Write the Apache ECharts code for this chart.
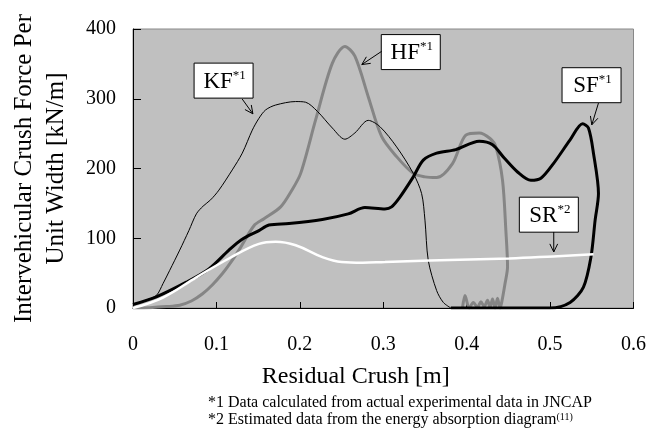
<!DOCTYPE html>
<html>
<head>
<meta charset="utf-8">
<script src="https://cdn.jsdelivr.net/npm/echarts@6/dist/echarts.min.js"></script>
<style>
html, body { margin: 0; padding: 0; background: #fff; }
#main { width: 649px; height: 445px; }
</style>
</head>
<body>
<div id="main"></div>
<script>
// residual crush [m], force per unit width [kN/m]
var kf = [[0,5],[0.015,11],[0.028,18],[0.036,35],[0.044,54],[0.056,83],[0.067,111],[0.076,135],[0.084,146],[0.093,155],[0.103,169],[0.119,198],[0.131,222],[0.143,255],[0.151,272],[0.159,284],[0.171,291],[0.195,296],[0.207,295],[0.221,282],[0.239,258],[0.254,242],[0.266,251],[0.282,269],[0.296,260],[0.316,231],[0.336,193],[0.346,164],[0.35,126],[0.354,68],[0.364,25],[0.372,8],[0.381,0]];
var hf = [[0,0],[0.02,0.5],[0.04,2],[0.056,4],[0.07,10],[0.083,20],[0.095,33],[0.107,49],[0.117,65],[0.127,83],[0.145,118],[0.157,128],[0.177,145],[0.19,168],[0.201,193],[0.219,270],[0.239,351],[0.254,375],[0.266,361],[0.282,303],[0.298,246],[0.316,217],[0.336,193],[0.35,188],[0.364,187],[0.383,207],[0.399,248],[0.415,251],[0.428,243],[0.435,231],[0.443,183],[0.447,111],[0.449,59],[0.446,35],[0.442,8],[0.44,0],[0.437,14],[0.434,0],[0.431,13],[0.428,1],[0.425,11],[0.421,2],[0.417,9],[0.413,1],[0.408,8],[0.403,0],[0.398,18],[0.395,0]];
var sf = [[0,5],[0.028,16],[0.064,37],[0.091,56],[0.115,83],[0.13,98],[0.151,111],[0.163,119],[0.187,121],[0.227,127],[0.258,135],[0.278,144],[0.302,142],[0.31,145],[0.32,159],[0.336,188],[0.348,212],[0.364,222],[0.387,227],[0.415,239],[0.431,234],[0.445,215],[0.461,195],[0.477,183],[0.489,186],[0.504,207],[0.524,241],[0.539,264],[0.546,258],[0.552,222],[0.558,164],[0.554,126],[0.549,73],[0.54,30],[0.524,8],[0.5,0],[0.44,0],[0.381,0]];
var sr = [[0,0],[0.036,15],[0.076,44],[0.115,71],[0.151,92],[0.171,95],[0.195,90],[0.227,73],[0.25,66],[0.275,65],[0.302,66],[0.356,68],[0.451,71],[0.504,74],[0.552,77]];

// callout boxes (center) and arrows, in data units
var notes = [
  { name: 'KF', sup: '*1', box: [0.1086, 326], from: [0.1309, 299.6], to: [0.1437, 278.4] },
  { name: 'HF', sup: '*1', box: [0.3330, 366.9], from: [0.2981, 368], to: [0.2743, 349] },
  { name: 'SF', sup: '*1', box: [0.5497, 319.4], from: [0.5580, 293.8], to: [0.5500, 262.6] },
  { name: 'SR', sup: '*2', box: [0.4985, 133.8], from: [0.5044, 109], to: [0.5044, 80.3] }
];
var footnotes = ['*1 Data calculated from actual experimental data in JNCAP',
                 '*2 Estimated data from the energy absorption diagram'];

var font = 'Liberation Serif, Times New Roman, serif';
var chart = echarts.init(document.getElementById('main'));

var option = {
  animation: false,
  backgroundColor: '#fff',
  grid: { left: 131, right: 14, top: 29, bottom: 137, show: true, backgroundColor: '#c0c0c0', borderColor: '#888', borderWidth: 1 },
  xAxis: {
    type: 'value', min: 0, max: 0.6, interval: 0.1,
    name: 'Residual Crush [m]', nameLocation: 'middle', nameGap: 57,
    nameTextStyle: { fontFamily: font, fontSize: 24, color: '#000', padding: [0, 55, 0, 0] },
    axisLine: { lineStyle: { color: '#000' } },
    axisTick: { inside: true, length: 6, lineStyle: { color: '#000' } },
    axisLabel: { fontFamily: font, fontSize: 20, color: '#000', margin: 27 },
    splitLine: { show: false }
  },
  yAxis: {
    type: 'value', min: 0, max: 400, interval: 100,
    name: 'Intervehicular Crush Force Per\nUnit Width [kN/m]', nameLocation: 'middle', nameGap: 61, nameRotate: 90,
    nameTextStyle: { fontFamily: font, fontSize: 25, color: '#000', lineHeight: 32 },
    axisLine: { show: true, lineStyle: { color: '#000' } },
    axisTick: { show: true, inside: true, length: 8, lineStyle: { color: '#000' } },
    axisLabel: { fontFamily: font, fontSize: 20, color: '#000', margin: 17 },
    splitLine: { show: false }
  },
  series: [
    { name: 'HF', type: 'line', data: hf, symbol: 'none', smooth: 0.3, lineStyle: { color: '#858585', width: 3 } },
    { name: 'KF', type: 'line', data: kf, symbol: 'none', smooth: 0.3, lineStyle: { color: '#000', width: 1 } },
    { name: 'SF', type: 'line', data: sf, symbol: 'none', smooth: 0.3, lineStyle: { color: '#000', width: 3 } },
    { name: 'SR', type: 'line', data: sr, symbol: 'none', smooth: 0.4, lineStyle: { color: '#fff', width: 2.5 } }
  ]
};
chart.setOption(option);

function arrowHead(p, q) {
  var ang = Math.atan2(q[1] - p[1], q[0] - p[0]);
  var len = 9, spread = 0.45;
  return [
    [q[0] - len * Math.cos(ang - spread), q[1] - len * Math.sin(ang - spread)],
    q,
    [q[0] - len * Math.cos(ang + spread), q[1] - len * Math.sin(ang + spread)]
  ];
}

var graphics = [];
notes.forEach(function (n) {
  var c = chart.convertToPixel({ gridIndex: 0 }, n.box);
  var p = chart.convertToPixel({ gridIndex: 0 }, n.from);
  var q = chart.convertToPixel({ gridIndex: 0 }, n.to);
  var w = 59, h = 35;
  graphics.push({ type: 'rect', shape: { x: c[0] - w / 2, y: c[1] - h / 2, width: w, height: h },
    style: { fill: '#fff', stroke: '#000', lineWidth: 1 }, z: 100 });
  graphics.push({ type: 'text', x: c[0] + 1, y: c[1] + 1, z: 101,
    style: { text: '{a|' + n.name + '}{b|' + n.sup + '}', align: 'center', verticalAlign: 'middle',
      rich: { a: { fontFamily: font, fontSize: 23, fill: '#000', lineHeight: 26 },
              b: { fontFamily: font, fontSize: 13, fill: '#000', verticalAlign: 'top', lineHeight: 26 } } } });
  graphics.push({ type: 'polyline', z: 100, shape: { points: [p, q] }, style: { stroke: '#000', lineWidth: 1, fill: null } });
  graphics.push({ type: 'polyline', z: 100, shape: { points: arrowHead(p, q) }, style: { stroke: '#000', lineWidth: 1, fill: null } });
});
graphics.push({ type: 'text', left: 208, top: 395,
  style: { text: footnotes[0], fontFamily: font, fontSize: 16, fill: '#000' } });
graphics.push({ type: 'text', left: 208, top: 412,
  style: { text: footnotes[1] + '{s|(11)}', fontFamily: font, fontSize: 16, fill: '#000',
    rich: { s: { fontFamily: font, fontSize: 10, verticalAlign: 'top', fill: '#000' } } } });
chart.setOption({ graphic: graphics });
</script>
</body>
</html>
